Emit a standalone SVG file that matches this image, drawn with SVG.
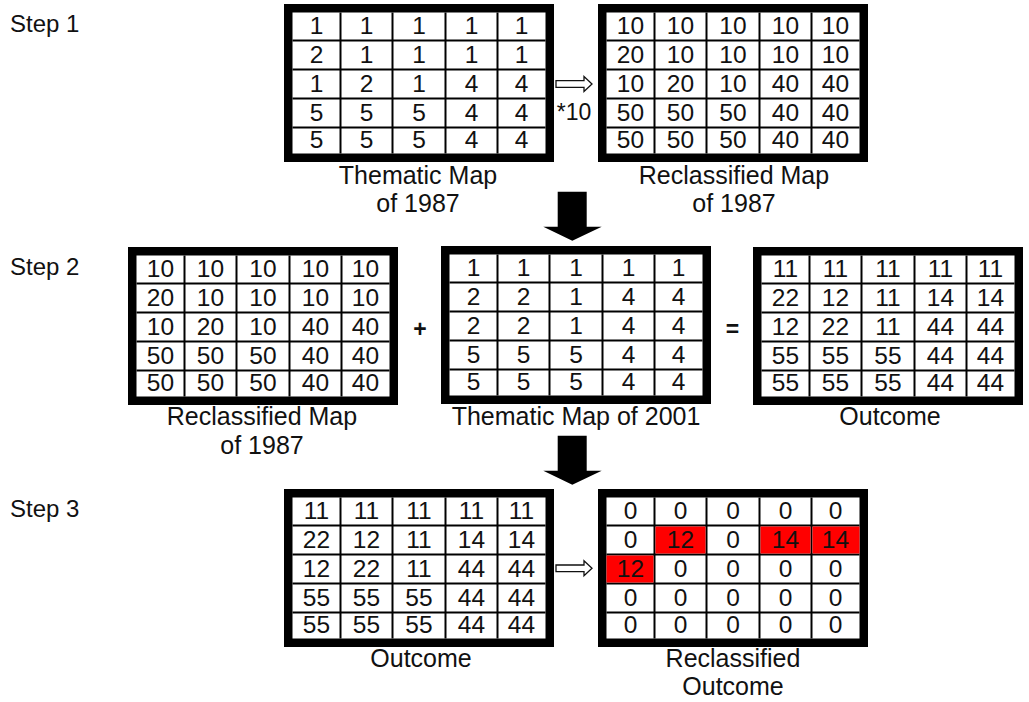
<svg xmlns="http://www.w3.org/2000/svg" xmlns:xlink="http://www.w3.org/1999/xlink" width="1029" height="702" viewBox="0 0 1029 702">
  <style>
    text { font-family: "Liberation Sans", Arial, sans-serif; fill: #111; }
    .cell { font-size: 24.5px; text-anchor: middle; }
    .cap { font-size: 25px; text-anchor: middle; }
    .step { font-size: 24px; }
    .op { font-size: 23px; font-weight: bold; text-anchor: middle; }
    .hollow { fill: #fff; stroke: #111; stroke-width: 1.3; stroke-linejoin: miter; }
    .solid { fill: #000; }
    .grid-line { stroke: #000; stroke-width: 2; }
    .hit { fill: #ff0000; }
  </style>
  <defs>
    <!-- 5x5 table frame: thick border, white body, thin cell rules -->
    <g id="frame">
      <rect x="0" y="0" width="270" height="158" fill="#000"/>
      <rect x="8.5" y="8.5" width="253" height="141" fill="#fff"/>
      <g class="grid-line">
        <line x1="56.5" y1="8.5" x2="56.5" y2="149.5"/>
        <line x1="108.5" y1="8.5" x2="108.5" y2="149.5"/>
        <line x1="161.5" y1="8.5" x2="161.5" y2="149.5"/>
        <line x1="213.5" y1="8.5" x2="213.5" y2="149.5"/>
        <line x1="8.5" y1="36.5" x2="261.5" y2="36.5"/>
        <line x1="8.5" y1="65.5" x2="261.5" y2="65.5"/>
        <line x1="8.5" y1="94.5" x2="261.5" y2="94.5"/>
        <line x1="8.5" y1="123.5" x2="261.5" y2="123.5"/>
      </g>
    </g>
    <polygon id="hollow-arrow" class="hollow" points="0,-3.3 28,-3.3 28,-7.5 36,0 28,7.5 28,3.3 0,3.3"/>
    <polygon id="down-arrow" class="solid" points="-14.6,0 14.4,0 14.4,35 29.4,35 0,49 -29,35 -14.6,35"/>
  </defs>

  <!-- step labels -->
  <g id="steps">
    <text class="step" x="10" y="31.5">Step 1</text>
    <text class="step" x="10" y="275">Step 2</text>
    <text class="step" x="10" y="517">Step 3</text>
  </g>

  <!-- Step 1: thematic map of 1987 -->
  <g id="map1987" transform="translate(284,4)">
    <use xlink:href="#frame"/>
    <g class="cell">
      <text x="32.5" y="30">1</text><text x="82.5" y="30">1</text><text x="135" y="30">1</text><text x="187.5" y="30">1</text><text x="237.5" y="30">1</text>
      <text x="32.5" y="58.5">2</text><text x="82.5" y="58.5">1</text><text x="135" y="58.5">1</text><text x="187.5" y="58.5">1</text><text x="237.5" y="58.5">1</text>
      <text x="32.5" y="87.5">1</text><text x="82.5" y="87.5">2</text><text x="135" y="87.5">1</text><text x="187.5" y="87.5">4</text><text x="237.5" y="87.5">4</text>
      <text x="32.5" y="116.5">5</text><text x="82.5" y="116.5">5</text><text x="135" y="116.5">5</text><text x="187.5" y="116.5">4</text><text x="237.5" y="116.5">4</text>
      <text x="32.5" y="144">5</text><text x="82.5" y="144">5</text><text x="135" y="144">5</text><text x="187.5" y="144">4</text><text x="237.5" y="144">4</text>
    </g>
    <text class="cap" x="134" y="179.5">Thematic Map</text>
    <text class="cap" x="134" y="208">of 1987</text>
  </g>

  <!-- Step 1: reclassified map of 1987 -->
  <g id="reclass1987-a" transform="translate(598,4)">
    <use xlink:href="#frame"/>
    <g class="cell">
      <text x="32.5" y="30">10</text><text x="82.5" y="30">10</text><text x="135" y="30">10</text><text x="187.5" y="30">10</text><text x="237.5" y="30">10</text>
      <text x="32.5" y="58.5">20</text><text x="82.5" y="58.5">10</text><text x="135" y="58.5">10</text><text x="187.5" y="58.5">10</text><text x="237.5" y="58.5">10</text>
      <text x="32.5" y="87.5">10</text><text x="82.5" y="87.5">20</text><text x="135" y="87.5">10</text><text x="187.5" y="87.5">40</text><text x="237.5" y="87.5">40</text>
      <text x="32.5" y="116.5">50</text><text x="82.5" y="116.5">50</text><text x="135" y="116.5">50</text><text x="187.5" y="116.5">40</text><text x="237.5" y="116.5">40</text>
      <text x="32.5" y="144">50</text><text x="82.5" y="144">50</text><text x="135" y="144">50</text><text x="187.5" y="144">40</text><text x="237.5" y="144">40</text>
    </g>
    <text class="cap" x="136" y="179.5">Reclassified Map</text>
    <text class="cap" x="136" y="208">of 1987</text>
  </g>

  <!-- Step 2: reclassified map of 1987 -->
  <g id="reclass1987-b" transform="translate(128,247)">
    <use xlink:href="#frame"/>
    <g class="cell">
      <text x="32.5" y="30">10</text><text x="82.5" y="30">10</text><text x="135" y="30">10</text><text x="187.5" y="30">10</text><text x="237.5" y="30">10</text>
      <text x="32.5" y="58.5">20</text><text x="82.5" y="58.5">10</text><text x="135" y="58.5">10</text><text x="187.5" y="58.5">10</text><text x="237.5" y="58.5">10</text>
      <text x="32.5" y="87.5">10</text><text x="82.5" y="87.5">20</text><text x="135" y="87.5">10</text><text x="187.5" y="87.5">40</text><text x="237.5" y="87.5">40</text>
      <text x="32.5" y="116.5">50</text><text x="82.5" y="116.5">50</text><text x="135" y="116.5">50</text><text x="187.5" y="116.5">40</text><text x="237.5" y="116.5">40</text>
      <text x="32.5" y="144">50</text><text x="82.5" y="144">50</text><text x="135" y="144">50</text><text x="187.5" y="144">40</text><text x="237.5" y="144">40</text>
    </g>
    <text class="cap" x="134" y="178">Reclassified Map</text>
    <text class="cap" x="134" y="206.5">of 1987</text>
  </g>

  <!-- Step 2: thematic map of 2001 -->
  <g id="map2001" transform="translate(441,246)">
    <use xlink:href="#frame"/>
    <g class="cell">
      <text x="32.5" y="30">1</text><text x="82.5" y="30">1</text><text x="135" y="30">1</text><text x="187.5" y="30">1</text><text x="237.5" y="30">1</text>
      <text x="32.5" y="58.5">2</text><text x="82.5" y="58.5">2</text><text x="135" y="58.5">1</text><text x="187.5" y="58.5">4</text><text x="237.5" y="58.5">4</text>
      <text x="32.5" y="87.5">2</text><text x="82.5" y="87.5">2</text><text x="135" y="87.5">1</text><text x="187.5" y="87.5">4</text><text x="237.5" y="87.5">4</text>
      <text x="32.5" y="116.5">5</text><text x="82.5" y="116.5">5</text><text x="135" y="116.5">5</text><text x="187.5" y="116.5">4</text><text x="237.5" y="116.5">4</text>
      <text x="32.5" y="144">5</text><text x="82.5" y="144">5</text><text x="135" y="144">5</text><text x="187.5" y="144">4</text><text x="237.5" y="144">4</text>
    </g>
    <text class="cap" x="135" y="179">Thematic Map of 2001</text>
  </g>

  <!-- Step 2: outcome -->
  <g id="outcome-a" transform="translate(753,247)">
    <use xlink:href="#frame"/>
    <g class="cell">
      <text x="32.5" y="30">11</text><text x="82.5" y="30">11</text><text x="135" y="30">11</text><text x="187.5" y="30">11</text><text x="237.5" y="30">11</text>
      <text x="32.5" y="58.5">22</text><text x="82.5" y="58.5">12</text><text x="135" y="58.5">11</text><text x="187.5" y="58.5">14</text><text x="237.5" y="58.5">14</text>
      <text x="32.5" y="87.5">12</text><text x="82.5" y="87.5">22</text><text x="135" y="87.5">11</text><text x="187.5" y="87.5">44</text><text x="237.5" y="87.5">44</text>
      <text x="32.5" y="116.5">55</text><text x="82.5" y="116.5">55</text><text x="135" y="116.5">55</text><text x="187.5" y="116.5">44</text><text x="237.5" y="116.5">44</text>
      <text x="32.5" y="144">55</text><text x="82.5" y="144">55</text><text x="135" y="144">55</text><text x="187.5" y="144">44</text><text x="237.5" y="144">44</text>
    </g>
    <text class="cap" x="137" y="178">Outcome</text>
  </g>

  <!-- Step 3: outcome -->
  <g id="outcome-b" transform="translate(284,489)">
    <use xlink:href="#frame"/>
    <g class="cell">
      <text x="32.5" y="30">11</text><text x="82.5" y="30">11</text><text x="135" y="30">11</text><text x="187.5" y="30">11</text><text x="237.5" y="30">11</text>
      <text x="32.5" y="58.5">22</text><text x="82.5" y="58.5">12</text><text x="135" y="58.5">11</text><text x="187.5" y="58.5">14</text><text x="237.5" y="58.5">14</text>
      <text x="32.5" y="87.5">12</text><text x="82.5" y="87.5">22</text><text x="135" y="87.5">11</text><text x="187.5" y="87.5">44</text><text x="237.5" y="87.5">44</text>
      <text x="32.5" y="116.5">55</text><text x="82.5" y="116.5">55</text><text x="135" y="116.5">55</text><text x="187.5" y="116.5">44</text><text x="237.5" y="116.5">44</text>
      <text x="32.5" y="144">55</text><text x="82.5" y="144">55</text><text x="135" y="144">55</text><text x="187.5" y="144">44</text><text x="237.5" y="144">44</text>
    </g>
    <text class="cap" x="137" y="177.5">Outcome</text>
  </g>

  <!-- Step 3: reclassified outcome, changed cells in red -->
  <g id="reclass-outcome" transform="translate(598,489)">
    <use xlink:href="#frame"/>
    <rect class="hit" x="57.5" y="37.5" width="50" height="27"/>
    <rect class="hit" x="162.5" y="37.5" width="50" height="27"/>
    <rect class="hit" x="214.5" y="37.5" width="47" height="27"/>
    <rect class="hit" x="8.5" y="66.5" width="47" height="27"/>
    <g class="cell">
      <text x="32.5" y="30">0</text><text x="82.5" y="30">0</text><text x="135" y="30">0</text><text x="187.5" y="30">0</text><text x="237.5" y="30">0</text>
      <text x="32.5" y="58.5">0</text><text x="82.5" y="58.5">12</text><text x="135" y="58.5">0</text><text x="187.5" y="58.5">14</text><text x="237.5" y="58.5">14</text>
      <text x="32.5" y="87.5">12</text><text x="82.5" y="87.5">0</text><text x="135" y="87.5">0</text><text x="187.5" y="87.5">0</text><text x="237.5" y="87.5">0</text>
      <text x="32.5" y="116.5">0</text><text x="82.5" y="116.5">0</text><text x="135" y="116.5">0</text><text x="187.5" y="116.5">0</text><text x="237.5" y="116.5">0</text>
      <text x="32.5" y="144">0</text><text x="82.5" y="144">0</text><text x="135" y="144">0</text><text x="187.5" y="144">0</text><text x="237.5" y="144">0</text>
    </g>
    <text class="cap" x="135" y="177.5">Reclassified</text>
    <text class="cap" x="135" y="206">Outcome</text>
  </g>

  <!-- arrows between tables -->
  <g id="connectors">
    <use xlink:href="#hollow-arrow" x="556" y="84"/>
    <text x="574" y="119.5" style="font-size:23px;text-anchor:middle">*10</text>
    <use xlink:href="#down-arrow" x="572.3" y="191.7"/>
    <use xlink:href="#down-arrow" x="572.3" y="435.7"/>
    <use xlink:href="#hollow-arrow" x="556" y="568.3"/>
  </g>

  <!-- operators -->
  <g id="operators">
    <text class="op" x="420" y="337">+</text>
    <text class="op" x="732.5" y="337">=</text>
  </g>
</svg>
